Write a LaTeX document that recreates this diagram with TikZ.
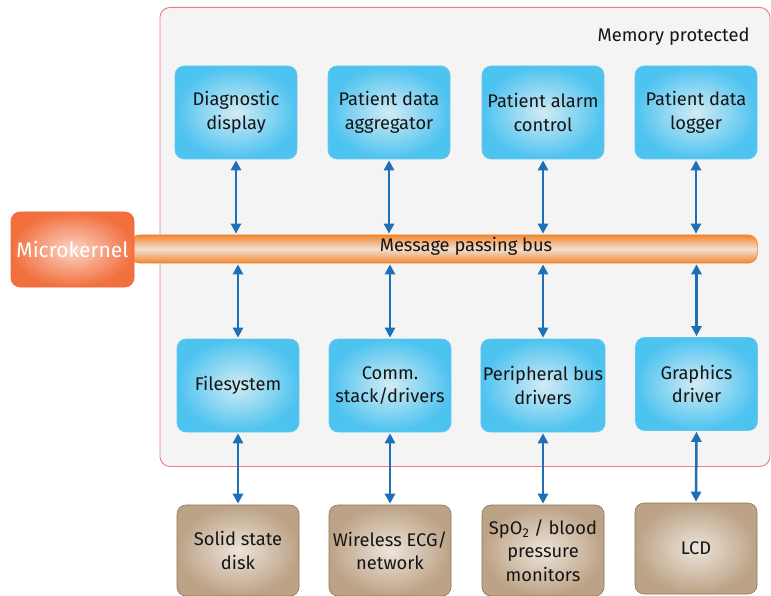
\documentclass[tikz,border=0pt]{standalone}
\usepackage{fontspec}
\setmainfont{Fira Sans}
\usetikzlibrary{arrows.meta}
\definecolor{txt}{HTML}{151515}
\definecolor{blueout}{HTML}{4DC3F0}
\definecolor{bluein}{HTML}{D2EBF4}
\definecolor{blueedge}{HTML}{6CC6EE}
\definecolor{brownout}{HTML}{BCA286}
\definecolor{brownin}{HTML}{EDE4DA}
\definecolor{brownedge}{HTML}{8C7257}
\definecolor{kernout}{HTML}{F2703F}
\definecolor{kernin}{HTML}{FBD3C4}
\definecolor{busedge}{HTML}{F2862F}
\definecolor{busmid}{HTML}{F1E0D2}
\definecolor{memfill}{HTML}{F4F4F4}
\definecolor{memedge}{HTML}{EE7B80}
\definecolor{arrowblue}{HTML}{1D6FB8}
\tikzset{
  x=1pt, y=-1pt,
  labelfont/.style={font=\fontsize{18.3}{23.5}\selectfont},
  base/.style={rounded corners=9pt, minimum width=122pt, minimum height=93pt,
    align=center, text=txt, labelfont, inner sep=2pt},
  task/.style={base, draw=blueedge, line width=0.6pt, inner color=bluein, outer color=blueout},
  device/.style={base, draw=brownedge, line width=0.6pt, inner color=brownin, outer color=brownout, minimum height=91pt},
  link/.style={draw=arrowblue, line width=2.5pt,
    {Triangle[width=10pt,length=10pt]}-{Triangle[width=10pt,length=10pt]}, shorten <=1pt, shorten >=1pt},
}
\begin{document}
\begin{tikzpicture}
\useasboundingbox (0,0) rectangle (771,596);

% memory-protected region
\node[draw=memedge, line width=0.9pt, fill=memfill, rounded corners=10pt,
  minimum width=610pt, minimum height=459pt, anchor=north west] (mem) at (159.5,7) {};
\node[text=txt, labelfont, anchor=east] (memlabel) at (753,37) {Memory protected};

% message passing bus
\node[rounded corners=9pt, minimum width=627pt, minimum height=28pt, draw=busedge, line width=0.7pt,
  top color=busedge, bottom color=busedge, middle color=busmid, anchor=west] (bus) at (130,249) {};
\node[text=txt, labelfont] (buslabel) at (466,246) {Message passing bus};

% microkernel
\node[rounded corners=9pt, minimum width=123pt, minimum height=75pt, draw=kernout!90!red, line width=0.6pt,
  inner color=kernin, outer color=kernout, text=white, font=\fontsize{21}{23}\selectfont] (kernel) at (72.5,249.5) {Microkernel};

% application tasks
\node[task] (diag) at (236,112.5) {Diagnostic\\display};
\node[task] (aggr) at (389,112.5) {Patient data\\aggregator};
\node[task] (alarm) at (543,112.5) {Patient alarm\\control};
\node[task] (logger) at (696,112.5) {Patient data\\logger};

% drivers and services
\node[task] (fs) at (238,385.5) {Filesystem};
\node[task] (comm) at (390,385.5) {Comm.\\stack/drivers};
\node[task] (periph) at (543,385.5) {Peripheral bus\\drivers};
\node[task] (gfx) at (696.5,384) {Graphics\\driver};

% hardware
\node[device] (disk) at (238,550.5) {Solid state\\disk};
\node[device] (ecg) at (390,550.5) {Wireless ECG/\\network};
\node[device] (spo) at (543,550.5) {SpO\textsubscript{2} / blood\\pressure\\monitors};
\node[device] (lcd) at (696,548.5) {LCD};

% tasks to bus
\foreach \n in {diag,aggr,alarm,logger}
  \draw[link] (\n.south) -- (\n.south |- bus.north);
% bus to drivers
\foreach \n in {fs,comm,periph,gfx}
  \draw[link] (\n.north |- bus.south) -- (\n.north);
% drivers to hardware
\draw[link] (fs.south) -- (disk.north);
\draw[link] (comm.south) -- (ecg.north);
\draw[link] (periph.south) -- (spo.north);
\draw[link] (gfx.south) -- (lcd.north);
\end{tikzpicture}
\end{document}
